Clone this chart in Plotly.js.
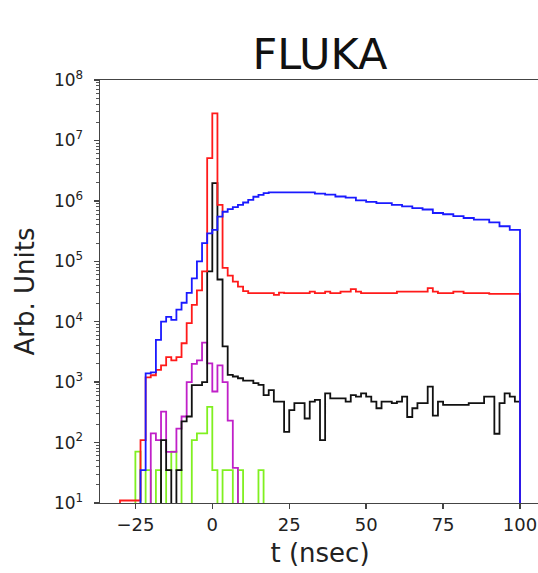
<!DOCTYPE html>
<html>
<head>
<meta charset="utf-8">
<script src="https://cdn.plot.ly/plotly-3.0.1.min.js"></script>
<style>html,body{margin:0;padding:0;overflow:hidden;background:#fff}</style>
</head>
<body>
<div id="chart"></div>
<script>
// Histogram binning (78 bins of 5/3 ns from -30 to 100 ns)
const binStart = -30;
const binWidth = 5 / 3;
const nBins = 78;
const binEdges = [];
for (let i = 0; i <= nBins; i++) binEdges.push(binStart + i * binWidth);

// Series values per bin (0 = empty bin)
const redVals = [11, 11, 11, 11, 110, 1200, 1300, 1600, 1900, 2600,
  2300, 2600, 4400, 9500, 19000, 33000, 68000, 5.1e6, 2.8e7, 8.6e5,
  78000, 58000, 46000, 38000, 32000, 29700, 29700, 29700, 29700, 29700,
  27800, 30300, 29700, 29700, 29700, 29700, 29700, 31500, 29700, 29700,
  31500, 29700, 29700, 31500, 31500, 34500, 31500, 29700, 29700, 29700,
  29700, 29700, 29700, 29700, 31500, 31500, 31500, 31500, 31500, 31500,
  36000, 31500, 29700, 29700, 29700, 31500, 31500, 29700, 29700, 29700,
  29700, 29700, 28800, 28800, 28800, 28800, 28800, 28800];

const blueVals = [0, 0, 0, 0, 35, 1400, 1450, 5000, 10000, 12000,
  10700, 15800, 20600, 30000, 52000, 1.0e5, 2.0e5, 2.9e5, 3.3e5, 5.5e5,
  6.6e5, 7.3e5, 7.9e5, 8.6e5, 9.4e5, 1.04e6, 1.17e6, 1.26e6, 1.34e6, 1.38e6,
  1.38e6, 1.38e6, 1.38e6, 1.38e6, 1.38e6, 1.38e6, 1.38e6, 1.38e6, 1.32e6, 1.32e6,
  1.27e6, 1.27e6, 1.18e6, 1.18e6, 1.13e6, 1.13e6, 1.02e6, 1.02e6, 9.6e5, 9.6e5,
  9.2e5, 9.2e5, 9.2e5, 8.6e5, 8.6e5, 8.1e5, 8.1e5, 7.6e5, 7.6e5, 7.2e5,
  7.2e5, 6.3e5, 6.3e5, 6.0e5, 6.0e5, 5.6e5, 5.6e5, 5.2e5, 5.2e5, 4.9e5,
  4.9e5, 4.9e5, 4.4e5, 4.4e5, 3.8e5, 3.8e5, 3.3e5, 3.3e5];

const blackVals = [0, 0, 0, 0, 0, 0, 0, 0, 110, 35,
  0, 35, 225, 270, 890, 890, 1000, 68000, 1.96e6, 50000,
  3900, 1320, 1240, 1160, 1060, 1060, 960, 900, 610, 740,
  475, 475, 150, 345, 450, 450, 250, 475, 510, 110,
  650, 540, 540, 540, 475, 610, 575, 650, 575, 475,
  370, 475, 475, 450, 475, 575, 265, 370, 450, 450,
  840, 280, 475, 420, 420, 420, 420, 420, 450, 450,
  450, 575, 575, 140, 450, 650, 575, 475];

const magentaVals = [0, 0, 0, 0, 0, 0, 142, 110, 325, 70,
  70, 170, 270, 1000, 2000, 2300, 4500, 2040, 700, 1900,
  1000, 230, 38];

const greenVals = [0, 0, 0, 71, 0, 35, 0, 35, 0, 35,
  71, 35, 0, 0, 110, 142, 142, 390, 35, 0,
  35, 35, 0, 35, 0, 0, 0, 35];

const yTickVals = [1e1, 1e2, 1e3, 1e4, 1e5, 1e6, 1e7, 1e8];
const yTickText = ['10<sup>1</sup>', '10<sup>2</sup>', '10<sup>3</sup>', '10<sup>4</sup>',
  '10<sup>5</sup>', '10<sup>6</sup>', '10<sup>7</sup>', '10<sup>8</sup>'];
const xTickVals = [-25, 0, 25, 50, 75, 100];
const xTickText = ['\u221225', '0', '25', '50', '75', '100'];

const BASE = 1; // below the visible log range -> drawn down to the axis
function stepTrace(vals, color) {
  let first = -1, last = -1;
  vals.forEach((v, i) => { if (v > 0) { if (first < 0) first = i; last = i; } });
  const x = [binEdges[first]], y = [BASE];
  for (let k = first; k <= last; k++) {
    x.push(binEdges[k]);
    y.push(vals[k] > 0 ? vals[k] : BASE);
  }
  x.push(binEdges[last + 1]); y.push(vals[last]);
  x.push(binEdges[last + 1]); y.push(BASE);
  return {x, y, type: 'scatter', mode: 'lines',
    line: {shape: 'hv', color: color, width: 1.8}, hoverinfo: 'skip', showlegend: false};
}

const minorVals = [];
for (let d = 1; d < 8; d++) for (let m = 2; m <= 9; m++) minorVals.push(m * Math.pow(10, d));

const traces = [
  stepTrace(greenVals, '#80f020'),
  stepTrace(magentaVals, '#c020c8'),
  stepTrace(blackVals, '#111111'),
  stepTrace(redVals, '#ff1a1a'),
  stepTrace(blueVals, '#1a1aff')
];

const font = 'DejaVu Sans, sans-serif';
const layout = {
  width: 560, height: 573,
  margin: {l: 100, r: 20, t: 80, b: 70},
  paper_bgcolor: '#fff', plot_bgcolor: '#fff',
  font: {family: font, color: '#222'},
  title: {text: 'FLUKA', font: {family: font, size: 43, color: '#111'},
    x: 0.5, xref: 'paper', xanchor: 'center', y: 1 - 54 / 573, yref: 'container', yanchor: 'middle'},
  xaxis: {
    range: [-36.5, 106.5], tickmode: 'array', tickvals: xTickVals, ticktext: xTickText,
    showgrid: false, zeroline: false, showline: true, mirror: true,
    linecolor: '#444', linewidth: 1.4, ticks: 'outside', ticklen: 5, tickwidth: 1.3, tickcolor: '#444',
    tickfont: {family: font, size: 18, color: '#222'},
    title: {text: 't (nsec)', font: {family: font, size: 26, color: '#222'}, standoff: 9}
  },
  yaxis: {
    type: 'log', range: [1, 8], tickmode: 'array', tickvals: yTickVals, ticktext: yTickText,
    showgrid: false, zeroline: false, showline: true, mirror: true,
    linecolor: '#444', linewidth: 1.4, ticks: 'outside', ticklen: 5, tickwidth: 1.3, tickcolor: '#444',
    tickfont: {family: font, size: 17, color: '#222'}, ticklabelstandoff: 7,
    minor: {tickmode: 'array', tickvals: minorVals, ticks: 'outside', ticklen: 3, tickwidth: 1, tickcolor: '#555', showgrid: false},
    title: {text: 'Arb. Units', font: {family: font, size: 26, color: '#222'}, standoff: 12}
  }
};

Plotly.newPlot('chart', traces, layout, {displayModeBar: false, staticPlot: true});
</script>
</body>
</html>
